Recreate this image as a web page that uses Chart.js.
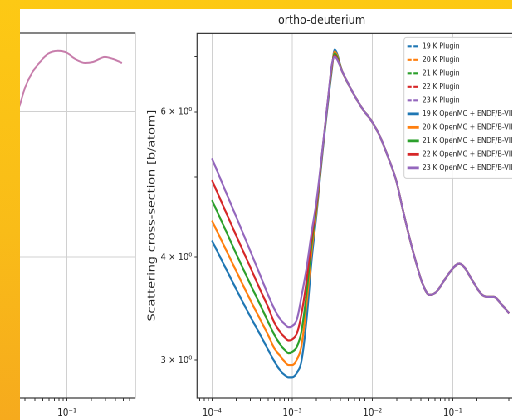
<!DOCTYPE html>
<html>
<head>
<meta charset="utf-8">
<script src="https://cdn.jsdelivr.net/npm/chart.js@4.4.1/dist/chart.umd.min.js"></script>
<style>
html,body{margin:0;padding:0;width:512px;height:420px;overflow:hidden;}
body{position:relative;background:linear-gradient(180deg,#fdc914 0%,#f9bc18 55%,#f6aa1d 100%);}
#panel{position:absolute;left:20px;top:9px;width:492px;height:411px;background:#fff;overflow:hidden;}
#stage{position:absolute;left:0;top:0;width:720px;height:411px;transform:scaleX(0.83);transform-origin:0 0;}
#cPara{position:absolute;left:-95px;top:0;}
#cOrtho{position:absolute;left:120px;top:0;}
</style>
</head>
<body>
<div id="panel"><div id="stage">
  <canvas id="cPara" width="239" height="411"></canvas>
  <canvas id="cOrtho" width="580" height="411"></canvas>
</div></div>
<script>
(function(){
// --- data ---
var temps = ["19 K", "20 K", "21 K", "22 K", "23 K"];
var colors = ["#1f77b4", "#ff7f0e", "#2ca02c", "#d62728", "#9467bd"];

// ortho-deuterium, energy [eV]; low part differs by temperature, tail is shared
var lowE = [1e-4, 1.5e-4, 2e-4, 3e-4, 4e-4, 5e-4, 6e-4, 7e-4, 8e-4, 9e-4,
            1e-3, 1.15e-3, 1.3e-3, 1.5e-3, 1.75e-3, 2e-3, 2.4e-3, 2.8e-3, 3.1e-3, 3.37e-3];
var xs19 = [4.19, 3.87, 3.66, 3.39, 3.22, 3.09, 2.99, 2.92, 2.88, 2.86, 2.86, 2.90, 2.99, 3.34, 3.98, 4.49, 5.39, 6.18, 6.72, 7.14];
var xs20 = [4.43, 4.08, 3.85, 3.55, 3.36, 3.22, 3.10, 3.04, 2.99, 2.96, 2.96, 3.01, 3.12, 3.49, 4.08, 4.54, 5.42, 6.22, 6.76, 7.10];
var xs21 = [4.69, 4.30, 4.04, 3.71, 3.50, 3.34, 3.22, 3.14, 3.09, 3.06, 3.07, 3.12, 3.25, 3.60, 4.16, 4.59, 5.42, 6.22, 6.79, 7.06];
var xs22 = [4.96, 4.53, 4.25, 3.89, 3.65, 3.48, 3.33, 3.25, 3.20, 3.17, 3.18, 3.24, 3.41, 3.73, 4.23, 4.63, 5.44, 6.24, 6.81, 7.02];
var xs23 = [5.27, 4.79, 4.48, 4.07, 3.80, 3.60, 3.46, 3.37, 3.32, 3.29, 3.30, 3.37, 3.58, 3.87, 4.30, 4.67, 5.45, 6.25, 6.83, 7.00];
var lowXS = [xs19, xs20, xs21, xs22, xs23];
var tailE = [4.24e-3, 5.65e-3, 7.52e-3, 9.72e-3, 1.22e-2, 1.54e-2, 1.99e-2, 2.36e-2, 2.88e-2, 3.52e-2, 4.18e-2, 5.11e-2,
             6.24e-2, 7.84e-2, 9.86e-2, 0.1205, 0.139, 0.175, 0.226, 0.268, 0.328, 0.400, 0.503];
var tailXS = [6.70, 6.34, 6.05, 5.85, 5.62, 5.31, 4.94, 4.59, 4.23, 3.93, 3.72, 3.60,
              3.63, 3.75, 3.87, 3.93, 3.89, 3.75, 3.61, 3.58, 3.58, 3.51, 3.42];

// neighbouring panel (only its right end is visible)
var paraE = [0.02, 0.0261, 0.0301, 0.0367, 0.0463, 0.0581, 0.0773, 0.1, 0.1257, 0.1674, 0.2104, 0.2965, 0.3725, 0.482];
var paraXS = [5.70, 6.12, 6.41, 6.68, 6.89, 7.05, 7.11, 7.07, 6.95, 6.87, 6.89, 6.99, 6.95, 6.87];

var xMajor = [1e-4, 1e-3, 1e-2, 1e-1];
var xMajorLabels = ["10⁻⁴", "10⁻³", "10⁻²", "10⁻¹"];
var yTicks = [3, 4, 5, 6, 7];
var yTickLabels = ["3 × 10⁰", "4 × 10⁰", "", "6 × 10⁰", ""];
var paraGridY = [4, 6];

Chart.defaults.font.family = "'DejaVu Sans', sans-serif";
Chart.defaults.color = "#222";

function logTicks(lo, hi, min, max){
  var out = [];
  for (var e = lo; e <= hi; e++){
    for (var m = 1; m < 10; m++){
      var v = m * Math.pow(10, e);
      if (v >= min && v <= max) out.push({value: v, major: m === 1});
    }
  }
  return out;
}
function xLabel(v){
  for (var i = 0; i < xMajor.length; i++){
    if (Math.abs(Math.log10(v) - Math.log10(xMajor[i])) < 1e-6) return xMajorLabels[i];
  }
  return "";
}
function pts(xs, ys){ var a = []; for (var i = 0; i < xs.length; i++){ a.push({x: xs[i], y: ys[i]}); } return a; }

var framePlugin = { id: "frame", afterDatasetsDraw: function(chart){
  var a = chart.chartArea, c = chart.ctx;
  c.save(); c.strokeStyle = "#333"; c.lineWidth = 1.2;
  c.strokeRect(a.left, a.top, a.right - a.left, a.bottom - a.top);
  c.restore();
}};

var legendPlugin = { id: "mplLegend", afterDraw: function(chart){
  var a = chart.chartArea, c = chart.ctx;
  var left = a.right - 144.5, top = a.top + 4, w = 160, h = 141;
  c.save();
  c.fillStyle = "rgba(255,255,255,0.85)"; c.strokeStyle = "#cfcfcf"; c.lineWidth = 1;
  c.beginPath(); c.roundRect(left, top, w, h, 3); c.fill(); c.stroke();
  c.font = "8px 'DejaVu Sans', sans-serif"; c.textBaseline = "middle"; c.fillStyle = "#222";
  var dsets = chart.data.datasets;
  for (var i = 0; i < dsets.length; i++){
    var ds = dsets[i], y = top + 9 + i * 13.5;
    c.beginPath(); c.strokeStyle = ds.borderColor; c.lineWidth = ds.borderWidth + 0.6;
    c.setLineDash(ds.borderDash || []); c.moveTo(left + 4, y); c.lineTo(left + 18, y); c.stroke();
    c.setLineDash([]);
    c.fillText(ds.label, left + 22, y);
  }
  c.restore();
}};

// ortho-deuterium datasets: plugin (dashed) first, then OpenMC (solid), last drawn on top
var datasets = [];
for (var k = 0; k < temps.length; k++){
  datasets.push({ label: temps[k] + " Plugin", data: pts(lowE.concat(tailE), lowXS[k].concat(tailXS)),
    borderColor: colors[k], borderWidth: 1.5, borderDash: [5, 2.5] });
}
for (var k2 = 0; k2 < temps.length; k2++){
  datasets.push({ label: temps[k2] + " OpenMC + ENDF/B-VIII.0", data: pts(lowE.concat(tailE), lowXS[k2].concat(tailXS)),
    borderColor: colors[k2], borderWidth: 2.2 });
}
for (var d = 0; d < datasets.length; d++){
  datasets[d].order = datasets.length - d;
  datasets[d].pointRadius = 0;
  datasets[d].cubicInterpolationMode = "monotone";
  datasets[d].fill = false;
}

var X_MIN = 6.52e-5, X_MAX = 0.771, Y_MIN = 2.74, Y_MAX = 7.47;

new Chart(document.getElementById("cOrtho"), {
  type: "line",
  data: { datasets: datasets },
  plugins: [framePlugin, legendPlugin],
  options: {
    responsive: false, animation: false, devicePixelRatio: 2,
    layout: { padding: { left: 0, right: 92.8, top: 0, bottom: 0 } },
    plugins: {
      legend: { display: false }, tooltip: { enabled: false },
      title: { display: true, text: "ortho-deuterium", color: "#222",
               font: { size: 12.8, weight: "normal" }, padding: { top: 4, bottom: 5 } }
    },
    scales: {
      x: { type: "logarithmic", min: X_MIN, max: X_MAX,
        afterBuildTicks: function(s){ s.ticks = logTicks(-5, -1, X_MIN, X_MAX); },
        afterFit: function(s){ s.height = 22; },
        border: { display: false },
        grid: { color: function(c){ return c.tick && c.tick.major ? "#d0d0d0" : "rgba(0,0,0,0)"; },
                tickColor: "#333", tickLength: 3, lineWidth: 1 },
        ticks: { autoSkip: false, maxRotation: 0, padding: 6, font: { size: 10.5 },
                 callback: function(v){ return xLabel(v); } }
      },
      y: { type: "logarithmic", min: Y_MIN, max: Y_MAX,
        afterBuildTicks: function(s){ s.ticks = yTicks.map(function(v){ return {value: v}; }); },
        afterFit: function(s){ s.width = 93.3; },
        border: { display: false },
        grid: { color: "rgba(0,0,0,0)", tickColor: "#333", tickLength: 3 },
        ticks: { autoSkip: false, padding: 3, font: { size: 10 },
                 callback: function(v, i){ return yTickLabels[i]; } },
        title: { display: true, text: "Scattering cross-section [b/atom]", color: "#222",
                 font: { size: 12.7 }, padding: { top: 31.4, bottom: 0 } }
      }
    }
  }
});

var PX_MIN = Math.pow(10, -2.5), PX_MAX = 0.70;
new Chart(document.getElementById("cPara"), {
  type: "line",
  data: { datasets: [{ label: "para", data: pts(paraE, paraXS), borderColor: "#c77dab", borderWidth: 2,
                       pointRadius: 0, cubicInterpolationMode: "monotone", fill: false }] },
  plugins: [framePlugin],
  options: {
    responsive: false, animation: false, devicePixelRatio: 2,
    layout: { padding: { left: 6.1, right: 5.4, top: 24, bottom: 0 } },
    plugins: { legend: { display: false }, tooltip: { enabled: false } },
    scales: {
      x: { type: "logarithmic", min: PX_MIN, max: PX_MAX,
        afterBuildTicks: function(s){ s.ticks = logTicks(-3, -1, PX_MIN, PX_MAX); },
        afterFit: function(s){ s.height = 22; },
        border: { display: false },
        grid: { color: function(c){ return c.tick && c.tick.major ? "#d0d0d0" : "rgba(0,0,0,0)"; },
                tickColor: "#333", tickLength: 3 },
        ticks: { autoSkip: false, maxRotation: 0, padding: 6, font: { size: 10.5 },
                 callback: function(v){ return xLabel(v); } }
      },
      y: { type: "logarithmic", min: Y_MIN, max: Y_MAX,
        afterBuildTicks: function(s){ s.ticks = paraGridY.map(function(v){ return {value: v}; }); },
        afterFit: function(s){ s.width = 0; },
        border: { display: false },
        grid: { color: "#d0d0d0", drawTicks: false },
        ticks: { display: false }
      }
    }
  }
});
})();
</script>
</body>
</html>
